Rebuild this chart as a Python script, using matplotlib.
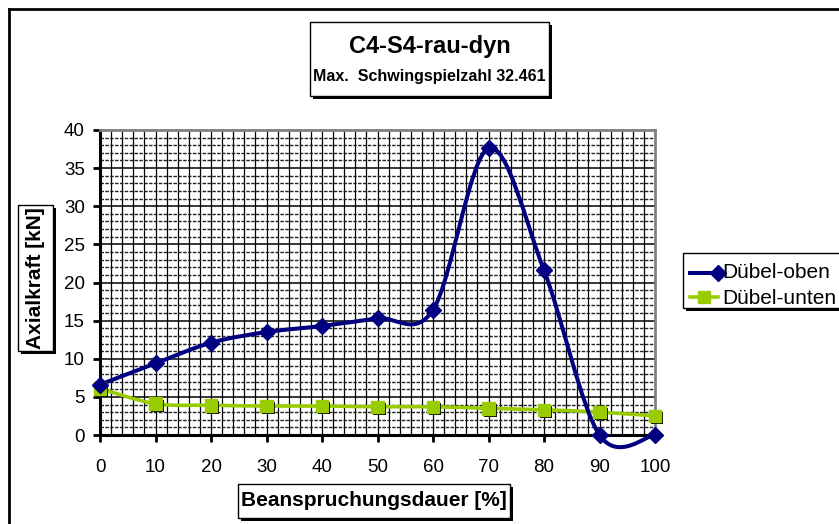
import numpy as np
import matplotlib
matplotlib.use("Agg")
import matplotlib.pyplot as plt
from matplotlib.path import Path
from matplotlib.patches import PathPatch, Rectangle
from matplotlib.lines import Line2D
import matplotlib.patheffects as pe

plt.rcParams["font.family"] = ["Liberation Sans", "DejaVu Sans"]

# Data
dauer = [0, 10, 20, 30, 40, 50, 60, 70, 80, 90, 100]
duebel_oben = [6.6, 9.4, 12.1, 13.5, 14.3, 15.3, 16.4, 37.6, 21.6, 0.0, 0.0]
duebel_unten = [6.1, 4.1, 3.9, 3.8, 3.8, 3.7, 3.7, 3.5, 3.3, 3.0, 2.5]

W, H = 839, 524
NAVY = "#000080"
GREEN = "#99cc00"


def fx(px):
    return px / W


def fy(py):
    return 1 - py / H


def smooth_path(x, y):
    """Excel-like smoothed line (Catmull-Rom as cubic Bezier)"""
    pts = np.column_stack([x, y]).astype(float)
    n = len(pts)
    verts = [pts[0]]
    codes = [Path.MOVETO]
    for i in range(n - 1):
        p0 = pts[max(i - 1, 0)]
        p1 = pts[i]
        p2 = pts[i + 1]
        p3 = pts[min(i + 2, n - 1)]
        c1 = p1 + (p2 - p0) / 6
        c2 = p2 - (p3 - p1) / 6
        verts += [c1, c2, p2]
        codes += [Path.CURVE4] * 3
    return Path(verts, codes)


def box(fig, x0, y0, x1, y1, shadow=3, lw=1.0):
    # shadow first, then white box with black border
    fig.add_artist(Rectangle((fx(x0 + shadow), fy(y1 + shadow)), fx(x1 - x0), (y1 - y0) / H,
                             facecolor="black", edgecolor="none", zorder=5))
    fig.add_artist(Rectangle((fx(x0), fy(y1)), fx(x1 - x0), (y1 - y0) / H,
                             facecolor="white", edgecolor="black", linewidth=lw, zorder=6))


fig = plt.figure(figsize=(W / 100, H / 100), dpi=100)
ax = fig.add_axes([fx(100), fy(435), fx(655 - 100), (435 - 130) / H])

ax.set_xlim(0, 100)
ax.set_ylim(0, 40)
ax.set_xticks(np.arange(0, 101, 10))
ax.set_yticks(np.arange(0, 41, 5))

# grid: vertical every 2, horizontal solid every 5, dashed every 1
for xv in np.arange(2, 100, 2):
    ax.axvline(xv, color="black", lw=0.9, zorder=1)
for yv in np.arange(1, 40, 1):
    if yv % 5 == 0:
        ax.axhline(yv, color="black", lw=1.1, zorder=1)
    else:
        ax.axhline(yv, color="#222222", lw=1.0, ls=(0, (2.5, 1)), zorder=1)

ax.tick_params(axis="both", which="major", direction="out", length=5, width=2,
               labelsize=13.5, color="black")
ax.tick_params(axis="x", pad=12)
ax.tick_params(axis="y", pad=6)

for s in ["left", "bottom"]:
    ax.spines[s].set_color("black")
    ax.spines[s].set_linewidth(2.2)
for s in ["top", "right"]:
    ax.spines[s].set_color("#808080")
    ax.spines[s].set_linewidth(2)

# curves
ax.add_patch(PathPatch(smooth_path(dauer, duebel_unten), facecolor="none",
                       edgecolor=GREEN, lw=2.6, zorder=3, clip_on=False))
ax.add_patch(PathPatch(smooth_path(dauer, duebel_oben), facecolor="none",
                       edgecolor=NAVY, lw=2.9, zorder=4, clip_on=False))

shadow = [pe.SimplePatchShadow(offset=(1.5, -1.5), shadow_rgbFace="black", alpha=1.0), pe.Normal()]
ax.plot(dauer, duebel_unten, ls="none", marker="s", ms=9, mfc=GREEN, mec=GREEN,
        zorder=5, clip_on=False, path_effects=shadow)
ax.plot(dauer, duebel_oben, ls="none", marker="D", ms=8, mfc=NAVY, mec=NAVY,
        zorder=6, clip_on=False)

# outer chart border
fig.add_artist(Line2D([fx(9), fx(9)], [fy(9), 0], color="black", lw=2))
fig.add_artist(Line2D([fx(9), 1], [fy(9), fy(9)], color="black", lw=2))

# title box
box(fig, 310, 22, 549, 96)
fig.text(fx(429.5), fy(46), "C4-S4-rau-dyn", ha="center", va="center",
         fontsize=17, fontweight="bold", zorder=7)
fig.text(fx(429.5), fy(76), "Max.  Schwingspielzahl 32.461", ha="center", va="center",
         fontsize=11.5, fontweight="bold", zorder=7)

# axis titles
box(fig, 18, 205, 53, 351)
fig.text(fx(35.5), fy(278), "Axialkraft [kN]", rotation=90, ha="center", va="center",
         fontsize=15, fontweight="bold", zorder=7)
box(fig, 238, 484, 510, 518)
fig.text(fx(374), fy(501), "Beanspruchungsdauer [%]", ha="center", va="center",
         fontsize=15, fontweight="bold", zorder=7)

# legend
box(fig, 683, 253, 860, 308)
fig.add_artist(Line2D([fx(690), fx(718)], [fy(273), fy(273)], color=NAVY, lw=2.9,
                      marker="D", markevery=[1], ms=8, zorder=7))
fig.add_artist(Line2D([fx(690), fx(704), fx(718)], [fy(297), fy(297), fy(297)], color=GREEN,
                      lw=2.6, marker="s", markevery=[1], ms=9, zorder=7))
fig.text(fx(722), fy(273), "Dübel-oben", ha="left", va="center", fontsize=15, zorder=7)
fig.text(fx(722), fy(298), "Dübel-unten", ha="left", va="center", fontsize=15, zorder=7)

fig.savefig("out.png", dpi=100)
